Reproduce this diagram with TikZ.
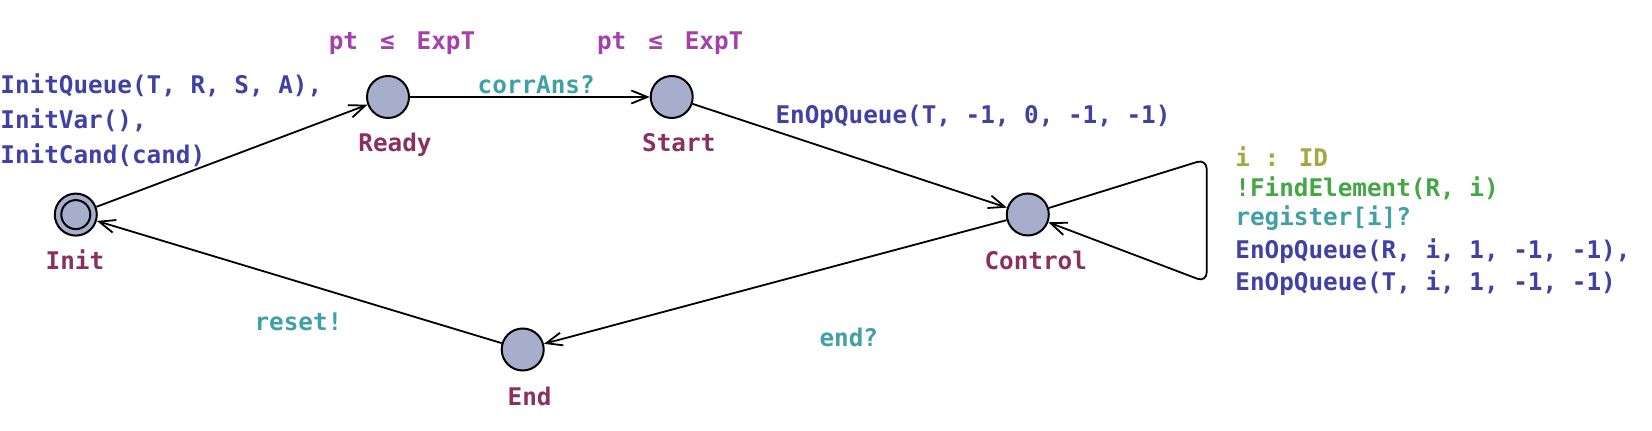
\documentclass[tikz,border=0pt]{standalone}
\usepackage{fontspec}
\newfontfamily\uf{DejaVu Sans Mono}
\usetikzlibrary{arrows.meta}
\definecolor{locfill}{RGB}{166,174,204}
\definecolor{namecol}{RGB}{138,48,96}
\definecolor{invcol}{RGB}{164,64,170}
\definecolor{synccol}{RGB}{64,160,166}
\definecolor{updcol}{RGB}{64,64,166}
\definecolor{guardcol}{RGB}{68,166,68}
\definecolor{selcol}{RGB}{166,166,64}
\begin{document}
\begin{tikzpicture}[x=0.5pt,y=-0.5pt,
  every node/.style={font=\uf\bfseries\fontsize{12.15}{14}\selectfont, inner sep=0pt},
  loc/.style={circle, draw, line width=1pt, fill=locfill, minimum size=21pt},
  lname/.style={text=namecol, anchor=base},
  inv/.style={text=invcol, anchor=base},
  sync/.style={text=synccol, anchor=base},
  upd/.style={text=updcol, anchor=base west},
  grd/.style={text=guardcol, anchor=base west},
  sel/.style={text=selcol, anchor=base west},
  edge/.style={line width=0.9pt, -{Straight Barb[length=8pt,width=6.5pt,line width=0.9pt]}}]
\useasboundingbox (0,0) rectangle (1652,431);
% locations
\node[loc] (init) at (75.8,214.6) {};
\node[circle, draw, line width=1pt, minimum size=14.5pt] (initin) at (75.8,214.6) {};
\node[loc] (ready) at (388,97) {};
\node[loc] (start) at (671.7,97) {};
\node[loc] (control) at (1027.8,214.5) {};
\node[loc] (end) at (522.7,349.5) {};
% names
\node[lname] (ninit) at (75,270) {Init};
\node[lname] (nready) at (395,151.7) {Ready};
\node[lname] (nstart) at (678.8,151.7) {Start};
\node[lname] (ncontrol) at (1035.7,270) {Control};
\node[lname] (nend) at (529.6,406) {End};
% invariants
\node[inv] (iready) at (402,49.3) {pt \makebox[1.204em]{≤} ExpT};
\node[inv] (istart) at (670.2,49.3) {pt \makebox[1.204em]{≤} ExpT};
% edge labels
\node[upd] (u1) at (0,93.3) {InitQueue(T, R, S, A),};
\node[upd] (u2) at (0,128.3) {InitVar(),};
\node[upd] (u3) at (0,163.3) {InitCand(cand)};
\node[sync] (s1) at (536.2,94) {corrAns?};
\node[text=updcol, anchor=base] (u4) at (973,124) {EnOpQueue(T, -1, 0, -1, -1)};
\node[sel] (sl) at (1235,166.7) {i : ID};
\node[grd] (g1) at (1235,196.7) {!FindElement(R, i)};
\node[text=synccol, anchor=base west] (s2) at (1235,225.5) {register[i]?};
\node[upd] (u5) at (1235,258.3) {EnOpQueue(R, i, 1, -1, -1),};
\node[upd] (u6) at (1235,290.7) {EnOpQueue(T, i, 1, -1, -1)};
\node[sync] (s3) at (298.4,330.7) {reset!};
\node[sync] (s4) at (848.8,346.7) {end?};
% edges
\coordinate (c1) at (1206.7,159);
\coordinate (c2) at (1206.7,282.3);
\draw[edge] (init) -- (ready);
\draw[edge] (ready) -- (start);
\draw[edge] (start) -- (control);
\draw[edge] (control) -- (end);
\draw[edge] (end) -- (init);
\draw[edge, rounded corners=5pt] (control) -- (c1) -- (c2) -- (control);
\end{tikzpicture}
\end{document}
